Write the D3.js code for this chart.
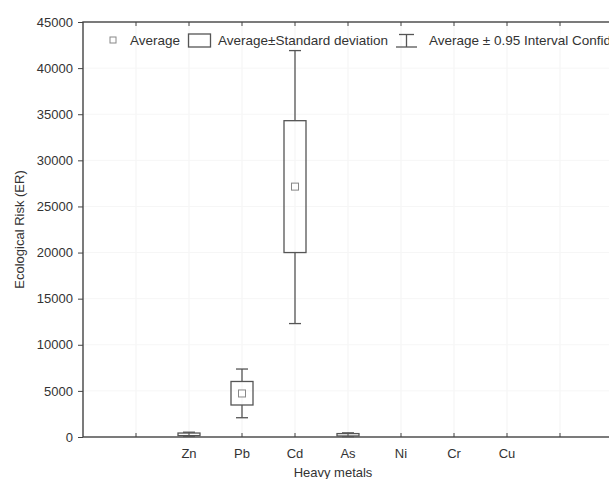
<!DOCTYPE html>
<html>
<head>
<meta charset="utf-8">
<script src="https://cdn.jsdelivr.net/npm/d3@7"></script>
<style>
  body { margin: 0; background: #fff; }
  text { font-family: "Liberation Sans", Arial, sans-serif; fill: #333; }
</style>
</head>
<body>
<div id="chart"></div>
<script>
// data (Ni, Cr, Cu show no visible marks)
const metals   = ["Zn", "Pb", "Cd", "As", "Ni", "Cr", "Cu"];
const avg      = [290, 4720, 27150, 240, null, null, null];
const sdLow    = [150, 3470, 20000, 110, null, null, null];
const sdHigh   = [430, 6020, 34300, 370, null, null, null];
const ciLow    = [60, 2090, 12300, 40, null, null, null];
const ciHigh   = [520, 7370, 41900, 450, null, null, null];
const yTicks   = [0, 5000, 10000, 15000, 20000, 25000, 30000, 35000, 40000, 45000];

const W = 609, H = 479;
const margin = {top: 22, left: 83, bottom: 437};

const svg = d3.select("#chart").append("svg")
    .attr("width", W)
    .attr("height", H);

// x uses slot index: slot 1 empty, metals in slots 2..8, slot 9 empty
const x = d3.scaleLinear().domain([0, 10]).range([margin.left, margin.left + 530]);
const y = d3.scaleLinear().domain([0, 45000]).range([margin.bottom, margin.top]);
const slots = d3.range(1, 10);
const slotOf = i => i + 2;

// faint grid
svg.append("g").selectAll("line.gx")
    .data(slots)
    .join("line")
    .attr("x1", d => x(d)).attr("x2", d => x(d))
    .attr("y1", y(45000)).attr("y2", y(0))
    .attr("stroke", "#f3f3f3");
svg.append("g").selectAll("line.gy")
    .data(yTicks.slice(1, -1))
    .join("line")
    .attr("x1", x(0)).attr("x2", x(10))
    .attr("y1", d => y(d)).attr("y2", d => y(d))
    .attr("stroke", "#f6f6f6");

// frame
const frame = "#444";
svg.append("rect")
    .attr("x", x(0)).attr("y", y(45000))
    .attr("width", x(10) - x(0)).attr("height", y(0) - y(45000))
    .attr("fill", "none").attr("stroke", frame).attr("stroke-width", 1.4);

// y axis
const yAxis = svg.append("g")
    .attr("transform", `translate(${x(0)},0)`)
    .call(d3.axisLeft(y).tickValues(yTicks).tickSize(5).tickPadding(5).tickFormat(d3.format("d")));
yAxis.select(".domain").remove();
yAxis.selectAll("line").attr("stroke", frame);
yAxis.selectAll("text").style("font-size", "13px").attr("fill", "#333");

// x ticks (inner, bottom and top)
svg.append("g").selectAll("line.tb")
    .data(slots)
    .join("line")
    .attr("x1", d => x(d)).attr("x2", d => x(d))
    .attr("y1", y(0)).attr("y2", y(0) - 4)
    .attr("stroke", frame);
svg.append("g").selectAll("line.tt")
    .data(slots)
    .join("line")
    .attr("x1", d => x(d)).attr("x2", d => x(d))
    .attr("y1", y(45000)).attr("y2", y(45000) + 4)
    .attr("stroke", frame);

svg.append("g").selectAll("text.xl")
    .data(metals)
    .join("text")
    .attr("x", (d, i) => x(slotOf(i)))
    .attr("y", 458)
    .attr("text-anchor", "middle")
    .style("font-size", "13px")
    .text(d => d);

// axis titles
svg.append("text")
    .attr("x", 333).attr("y", 477)
    .attr("text-anchor", "middle")
    .style("font-size", "13px")
    .text("Heavy metals");
svg.append("text")
    .attr("transform", `translate(24,${(y(0) + y(45000)) / 2}) rotate(-90)`)
    .attr("text-anchor", "middle")
    .style("font-size", "13px")
    .text("Ecological Risk (ER)");

// box plots
const line = "#555";
const boxW = 22, capW = 12, markW = 7;
const g = svg.append("g");
metals.forEach((m, i) => {
    if (avg[i] == null) return;
    const cx = x(slotOf(i));
    g.append("line")
        .attr("x1", cx).attr("x2", cx)
        .attr("y1", y(ciHigh[i])).attr("y2", y(sdHigh[i]))
        .attr("stroke", line).attr("stroke-width", 1.3);
    g.append("line")
        .attr("x1", cx).attr("x2", cx)
        .attr("y1", y(sdLow[i])).attr("y2", y(ciLow[i]))
        .attr("stroke", line).attr("stroke-width", 1.3);
    [ciHigh[i], ciLow[i]].forEach(v => {
        g.append("line")
            .attr("x1", cx - capW / 2).attr("x2", cx + capW / 2)
            .attr("y1", y(v)).attr("y2", y(v))
            .attr("stroke", line).attr("stroke-width", 1.3);
    });
    g.append("rect")
        .attr("x", cx - boxW / 2).attr("y", y(sdHigh[i]))
        .attr("width", boxW).attr("height", y(sdLow[i]) - y(sdHigh[i]))
        .attr("fill", "none").attr("stroke", line).attr("stroke-width", 1.3);
    // tiny boxes hide their mean marker in the reference
    if (y(sdLow[i]) - y(sdHigh[i]) > markW) {
        g.append("rect")
            .attr("x", cx - markW / 2).attr("y", y(avg[i]) - markW / 2)
            .attr("width", markW).attr("height", markW)
            .attr("fill", "#fff").attr("stroke", "#888");
    }
});

// legend
const leg = svg.append("g");
const fs = "13.5px";
leg.append("rect").attr("x", 110).attr("y", 37).attr("width", 6).attr("height", 6)
    .attr("fill", "#fff").attr("stroke", "#888");
leg.append("text").attr("x", 130).attr("y", 45).style("font-size", fs).text("Average");
leg.append("rect").attr("x", 188.5).attr("y", 34).attr("width", 22).attr("height", 13)
    .attr("fill", "none").attr("stroke", line).attr("stroke-width", 1.3);
leg.append("text").attr("x", 218).attr("y", 45).style("font-size", fs).text("Average±Standard deviation");
leg.append("line").attr("x1", 399).attr("x2", 414).attr("y1", 34.5).attr("y2", 34.5)
    .attr("stroke", line).attr("stroke-width", 1.3);
leg.append("line").attr("x1", 406.5).attr("x2", 406.5).attr("y1", 34.5).attr("y2", 47)
    .attr("stroke", line).attr("stroke-width", 1.3);
leg.append("line").attr("x1", 396).attr("x2", 417).attr("y1", 47).attr("y2", 47)
    .attr("stroke", line).attr("stroke-width", 1.3);
leg.append("text").attr("x", 429).attr("y", 45).style("font-size", fs).text("Average ± 0.95 Interval Confidence");
</script>
</body>
</html>
